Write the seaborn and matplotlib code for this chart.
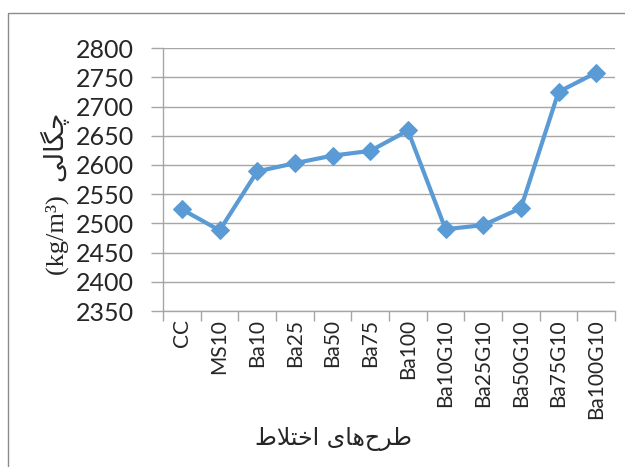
import matplotlib
matplotlib.use("Agg")
import matplotlib.pyplot as plt
import seaborn as sns
import numpy as np
from matplotlib.patches import Rectangle
from matplotlib.ticker import FixedLocator

# mixes (x categories) and measured density
mixes = ["CC", "MS10", "Ba10", "Ba25", "Ba50", "Ba75", "Ba100",
         "Ba10G10", "Ba25G10", "Ba50G10", "Ba75G10", "Ba100G10"]
density = [2524, 2488, 2589, 2603, 2616, 2624, 2659,
           2490, 2497, 2526, 2725, 2758]
y_ticks = list(range(2350, 2801, 50))

# Persian labels, pre-shaped (presentation forms, visual order)
# "چگالی"
ylab_fa = "\uFEF0\uFEDF\uFE8E\uFB95\uFB7C"
# "طرح‌های اختلاط"
xlab_fa = "\uFEC1\uFEFC\uFE98\uFEA7\uFE8D \uFBFC\uFE8E\uFEEB\uFEA1\uFEAE\uFEC3"

sns.set_style("white")
plt.rcParams['font.family'] = ['Lato', 'DejaVu Sans']

fig = plt.figure(figsize=(6.25, 4.67), dpi=100)
ax = fig.add_axes([0.261, 0.334, 0.723, 0.563])

pos = np.arange(len(mixes))
sns.lineplot(x=pos, y=density, ax=ax, sort=False, color="#5B9BD5",
             linewidth=3, marker="D", markersize=9,
             markeredgecolor="#5B9BD5", zorder=3)

grid_c = "#A6A6A6"
ax.set_ylim(2350, 2800)
ax.set_yticks(y_ticks)
ax.set_xlim(-0.5, len(mixes) - 0.5)
ax.set_xticks(pos)
ax.set_xticklabels(mixes, rotation=90, fontsize=15)
ax.xaxis.set_minor_locator(FixedLocator(np.arange(-0.5, len(mixes), 1)))
ax.tick_params(axis="x", which="major", length=0, pad=6)
ax.tick_params(axis="x", which="minor", length=7, color=grid_c, width=1,
               direction="out", bottom=True)
ax.tick_params(axis="y", length=9, color=grid_c, width=1, direction="out",
               labelsize=18, pad=12, left=True)
ax.yaxis.grid(True, color=grid_c, linewidth=1)
ax.xaxis.grid(False)
for s in ["top", "right"]:
    ax.spines[s].set_visible(False)
for s in ["left", "bottom"]:
    ax.spines[s].set_color(grid_c)
    ax.spines[s].set_linewidth(1)

ax.set_xlabel(xlab_fa, fontsize=17, family=['DejaVu Sans'])
ax.xaxis.set_label_coords(0.376, -0.44)
ax.set_ylabel("(kg/m\u00b3)  " + ylab_fa, fontsize=19,
              family=['Liberation Serif', 'DejaVu Sans'])
ax.yaxis.set_label_coords(-0.205, 0.445)

# chart-area border
fig.patches.append(Rectangle((8 / 625, -0.1), 1.2, 1 - 13 / 467 + 0.1,
                             transform=fig.transFigure, fill=False,
                             edgecolor="#8C8C8C", linewidth=1))

fig.savefig("out.png", dpi=100)
